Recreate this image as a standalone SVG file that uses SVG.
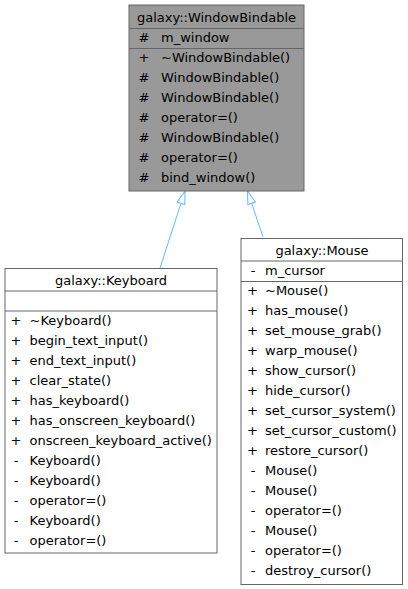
<svg xmlns="http://www.w3.org/2000/svg" width="408" height="589" viewBox="0 0 408 589">
<style>
text{font-family:"DejaVu Sans","Liberation Sans",sans-serif;font-size:13px;fill:#000}
.t{text-anchor:middle}
.s{text-anchor:middle}
.box{stroke:#666666;stroke-width:1}
.sep{stroke:#666666;stroke-width:1;fill:none}
.edge{stroke:#63b8ff;stroke-width:1;fill:none}
</style>
<defs>
<marker id="tri" markerUnits="userSpaceOnUse" markerWidth="16" markerHeight="12" viewBox="0 0 16 12" refX="14" refY="6" orient="auto">
<path d="M1,2 L14,6 L1,10 Z" fill="#ffffff" stroke="#63b8ff" stroke-width="1"/>
</marker>
</defs>
<rect width="408" height="589" fill="#ffffff"/>
<g id="edges">
<path class="edge" d="M160,268 L185,191" marker-end="url(#tri)"/>
<path class="edge" d="M263,237 L247.5,191" marker-end="url(#tri)"/>
</g>
<g id="WindowBindable">
<rect class="box" x="129" y="5" width="175" height="186" fill="#999999"/>
<line class="sep" x1="129" y1="28.5" x2="304" y2="28.5"/>
<line class="sep" x1="129" y1="48.5" x2="304" y2="48.5"/>
<text class="t" x="216.5" y="22">galaxy::WindowBindable</text>
<text class="s" x="144" y="42">#</text><text x="161" y="42">m_window</text>
<text class="s" x="144" y="62">+</text><text x="161" y="62">~WindowBindable()</text>
<text class="s" x="144" y="82">#</text><text x="161" y="82">WindowBindable()</text>
<text class="s" x="144" y="102">#</text><text x="161" y="102">WindowBindable()</text>
<text class="s" x="144" y="122">#</text><text x="161" y="122">operator=()</text>
<text class="s" x="144" y="142">#</text><text x="161" y="142">WindowBindable()</text>
<text class="s" x="144" y="162">#</text><text x="161" y="162">operator=()</text>
<text class="s" x="144" y="182">#</text><text x="161" y="182">bind_window()</text>
</g>
<g id="Keyboard">
<rect class="box" x="5" y="268.5" width="212" height="284.5" fill="#ffffff"/>
<line class="sep" x1="5" y1="291" x2="217" y2="291"/>
<line class="sep" x1="5" y1="311" x2="217" y2="311"/>
<text class="t" x="111" y="285">galaxy::Keyboard</text>
<text class="s" x="16" y="325">+</text><text x="29.5" y="325">~Keyboard()</text>
<text class="s" x="16" y="345">+</text><text x="29.5" y="345">begin_text_input()</text>
<text class="s" x="16" y="365">+</text><text x="29.5" y="365">end_text_input()</text>
<text class="s" x="16" y="385">+</text><text x="29.5" y="385">clear_state()</text>
<text class="s" x="16" y="405">+</text><text x="29.5" y="405">has_keyboard()</text>
<text class="s" x="16" y="425">+</text><text x="29.5" y="425">has_onscreen_keyboard()</text>
<text class="s" x="16" y="445">+</text><text x="29.5" y="445">onscreen_keyboard_active()</text>
<text class="s" x="16" y="465">-</text><text x="29.5" y="465">Keyboard()</text>
<text class="s" x="16" y="485">-</text><text x="29.5" y="485">Keyboard()</text>
<text class="s" x="16" y="505">-</text><text x="29.5" y="505">operator=()</text>
<text class="s" x="16" y="525">-</text><text x="29.5" y="525">Keyboard()</text>
<text class="s" x="16" y="545">-</text><text x="29.5" y="545">operator=()</text>
</g>
<g id="Mouse">
<rect class="box" x="241" y="238.5" width="161.5" height="346" fill="#ffffff"/>
<line class="sep" x1="241" y1="261" x2="402.5" y2="261"/>
<line class="sep" x1="241" y1="281.5" x2="402.5" y2="281.5"/>
<text class="t" x="322" y="255">galaxy::Mouse</text>
<text class="s" x="253" y="275">-</text><text x="265" y="275">m_cursor</text>
<text class="s" x="252.5" y="295">+</text><text x="265" y="295">~Mouse()</text>
<text class="s" x="252.5" y="315">+</text><text x="265" y="315">has_mouse()</text>
<text class="s" x="252.5" y="335">+</text><text x="265" y="335">set_mouse_grab()</text>
<text class="s" x="252.5" y="355">+</text><text x="265" y="355">warp_mouse()</text>
<text class="s" x="252.5" y="375">+</text><text x="265" y="375">show_cursor()</text>
<text class="s" x="252.5" y="395">+</text><text x="265" y="395">hide_cursor()</text>
<text class="s" x="252.5" y="415">+</text><text x="265" y="415">set_cursor_system()</text>
<text class="s" x="252.5" y="435">+</text><text x="265" y="435">set_cursor_custom()</text>
<text class="s" x="252.5" y="455">+</text><text x="265" y="455">restore_cursor()</text>
<text class="s" x="253" y="475">-</text><text x="265" y="475">Mouse()</text>
<text class="s" x="253" y="495">-</text><text x="265" y="495">Mouse()</text>
<text class="s" x="253" y="515">-</text><text x="265" y="515">operator=()</text>
<text class="s" x="253" y="535">-</text><text x="265" y="535">Mouse()</text>
<text class="s" x="253" y="555">-</text><text x="265" y="555">operator=()</text>
<text class="s" x="253" y="575">-</text><text x="265" y="575">destroy_cursor()</text>
</g>
</svg>
